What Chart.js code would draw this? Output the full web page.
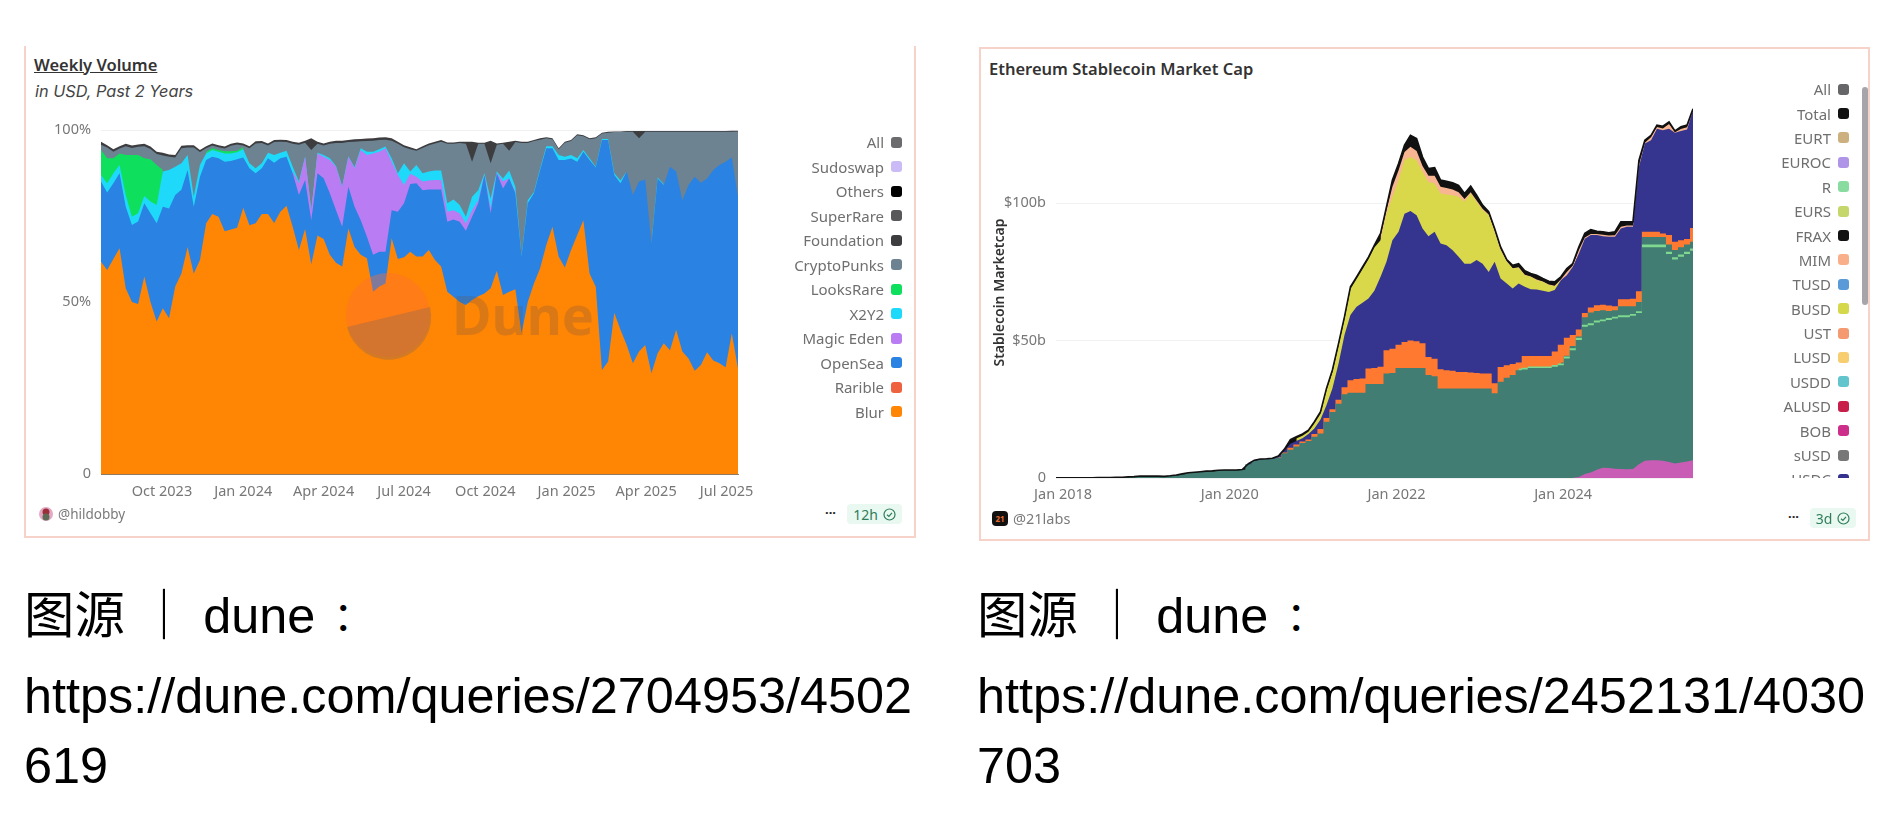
<!DOCTYPE html>
<html>
<head>
<meta charset="utf-8">
<script src="https://cdn.jsdelivr.net/npm/chart.js@4"></script>
<style>
html, body { margin:0; padding:0; background:#fff; width:1894px; height:832px; overflow:hidden; font-family:"Noto Sans",sans-serif; }
.abs { position:absolute; white-space:nowrap; }
.frame { position:absolute; box-sizing:border-box; border:2px solid #f7d2c8; }
.title { font-size:16.5px; font-weight:600; color:#333; }
.legend { position:absolute; overflow:hidden; }
.row { display:flex; justify-content:flex-end; align-items:center; gap:7px; font-size:15px; color:#6f6f6f; }
.row i { display:block; width:11px; height:11px; border-radius:3px; }
.owner { font-size:13.5px; color:#7a7a7a; }
.badge { position:absolute; display:flex; align-items:center; justify-content:center; gap:5px; background:#e9f8f0; color:#2f7d5b; border-radius:4px; font-size:14px; }
.dots { font-size:13px; font-weight:700; color:#222; letter-spacing:0; }
.cap { position:absolute; white-space:nowrap; font-family:"Liberation Sans","Noto Sans CJK SC",sans-serif; font-size:50.4px; line-height:60px; color:#000; }
.cap b { font-family:"Noto Sans CJK TC"; font-weight:400; font-size:40px; margin-left:8px; line-height:0; }
</style>
</head>
<body>

<div class="frame" style="left:24px;top:46px;width:892px;height:492px;border-top:none"></div>
<div class="frame" style="left:979px;top:47px;width:891px;height:494px"></div>

<div class="abs title" style="left:34px;top:53px;text-decoration:underline">Weekly Volume</div>
<div class="abs" style="left:35px;top:81px;font-family:Inter;font-size:16.3px;font-style:italic;color:#444">in USD, Past 2 Years</div>
<div class="abs title" style="left:989px;top:57px">Ethereum Stablecoin Market Cap</div>

<div class="abs" style="left:24px;top:100px;width:800px;height:410px"><canvas id="volume"></canvas></div>
<div class="abs" style="left:985px;top:80px;width:800px;height:430px"><canvas id="stable"></canvas></div>

<!-- Dune 워터마크 -->
<svg class="abs" style="left:340px;top:260px;pointer-events:none" width="270" height="110">
  <circle cx="48" cy="55" r="42" fill="rgba(255,110,50,0.4)"/>
  <path d="M 7 67 A 42 42 0 0 0 90 47 Z" fill="rgba(140,105,90,0.38)"/>
  <text x="112" y="75" font-family="Noto Sans" font-weight="700" font-size="54" fill="rgba(110,85,70,0.26)">Dune</text>
</svg>

<div class="legend" id="legendA" style="left:700px;top:130px;width:202px;height:300px"></div>
<div class="legend" id="legendB" style="left:1650px;top:77px;width:199px;height:401px"></div>
<div class="abs" style="left:1862px;top:87px;width:6px;height:218px;background:#a6a6aa;border-radius:3px"></div>

<svg class="abs" style="left:39px;top:507px" width="14" height="14">
  <circle cx="7" cy="7" r="7" fill="#e3a9c4"/><circle cx="7" cy="5" r="3.5" fill="#9a2f3a"/><circle cx="7" cy="10" r="3.5" fill="#5d6a55"/>
</svg>
<div class="abs owner" style="left:58px;top:505px">@hildobby</div>
<div class="abs dots" style="left:825px;top:503px">···</div>
<div class="badge" style="left:847px;top:504px;width:55px;height:20px">12h
  <svg width="13" height="13" viewBox="0 0 13 13"><circle cx="6.5" cy="6.5" r="5.5" fill="none" stroke="#2f7d5b" stroke-width="1.2"/><path d="M4 6.7 L5.9 8.5 L9 4.8" fill="none" stroke="#2f7d5b" stroke-width="1.2"/></svg>
</div>

<div class="abs" style="left:992px;top:511px;width:16px;height:15px;background:#111;border-radius:4px;color:#e8692c;font-size:8px;font-weight:700;line-height:15px;text-align:center">21</div>
<div class="abs owner" style="left:1013px;top:508px;font-size:14.5px">@21labs</div>
<div class="abs dots" style="left:1788px;top:507px">···</div>
<div class="badge" style="left:1810px;top:508px;width:46px;height:20px">3d
  <svg width="13" height="13" viewBox="0 0 13 13"><circle cx="6.5" cy="6.5" r="5.5" fill="none" stroke="#2f7d5b" stroke-width="1.2"/><path d="M4 6.7 L5.9 8.5 L9 4.8" fill="none" stroke="#2f7d5b" stroke-width="1.2"/></svg>
</div>

<div class="cap" style="left:24px;top:586px">图源 ｜ dune<b>：</b></div>
<div class="cap" style="left:24px;top:666px">https://dune.com/queries/2704953/4502</div>
<div class="cap" style="left:24px;top:736px">619</div>
<div class="cap" style="left:977px;top:586px">图源 ｜ dune<b>：</b></div>
<div class="cap" style="left:977px;top:666px">https://dune.com/queries/2452131/4030</div>
<div class="cap" style="left:977px;top:736px">703</div>

<script>
const gap = (n) => Array(n).fill(null);   // 해당 구간에 값이 없음

// ---- Weekly Volume (왼쪽) : 각 계열 윗선의 누적 % 값
const volumeTickDates = ['2023-10-01','2024-01-01','2024-04-01','2024-07-01','2024-10-01','2025-01-01','2025-04-01','2025-07-01'];
const volumeTickLabels = ['Oct 2023','Jan 2024','Apr 2024','Jul 2024','Oct 2024','Jan 2025','Apr 2025','Jul 2025'];

const blurTop = [
  61.7,59.3,62.5,65.6,54,50,49.4,57.4,50,44.3,
  48.2,45.3,54.5,58.3,66,58.3,62.2,72.9,75.6,74.8,
  70.6,71.1,71.6,77.4,72.3,72.9,75.6,75.6,73,76.2,
  78,71.9,65.1,71.2,61,69.3,68.3,63.7,61.4,60.3,
  71.4,66,63.7,62.7,53,54.5,55.4,68.5,62.5,63,
  64.6,63.2,63.2,65.1,62.2,60.3,53,51.5,50,49.1,
  50.6,51.7,52.5,54,59.1,52,53,53.7,40.9,50,
  55.4,59.8,66.6,71.9,63.2,60,65.1,69.5,73.8,58.3,
  54.4,30.2,32.7,46.9,41.9,37.5,32.2,35.6,37.5,29.3,
  35.1,38,36,41.9,35.6,33.6,30,31.7,35.4,33,
  32.2,31,40.9,30.7];
const openSeaTop = [
  85,81.8,84.5,87.4,77.7,72.4,73.4,78.7,75.8,72.9,
  77.7,77.2,81.1,82.6,88.4,77.7,86.4,91.3,92.2,91.8,
  90.8,91,91.5,92,88.9,87.4,88.9,91.8,90.5,91.8,
  92.2,87.4,81.1,85.5,73.8,87.4,86,81.6,76.7,71.9,
  83.5,77.7,73.8,69,63.7,64.6,64.6,76.7,76.2,78.7,
  84.3,84.5,82.5,82.7,82.7,82.7,73.3,74,73.3,70.7,
  74.8,78.7,86.9,75.8,87.4,83,85.9,81.6,63.2,78.7,
  81.6,88.4,94.7,94.7,91.3,91.3,91.7,90.8,93.7,91.3,
  89.1,97.1,97.1,86.9,84.5,87.9,81.1,85,85.6,67,
  85.9,84,89.3,87.9,79.6,84,86.4,84.7,85.9,88.4,
  89.8,90.8,92,80.6];
const magicEdenTop = gap(31).concat([
  87.9,84.5,92.2,76.7,93.2,92.2,91.3,89.3,83.5,
  92.2,88.9,94.2,92.7,93.2,93.7,94.7,90.8,86.9,84,
  87.3,86.4,85,85.3,85.5,85.5,76.2,76.7,75.8,72.9,
  76.7,79.6,87,77.2,87.5,85,86,82]);
const x2y2Top = [
  86.9,84.5,87.4,89.8,81.1,74.8,75.8,80.8,79.2,78.2,
  87.9,88.4,89.3,90.3,92.7,80.6,89.8,93.2,94.2,93.7,
  93.2,93.2,93.5,94.4,90.3,88.9,90.3,93.4,92.7,93.4,
  94,89.3,85,92.2,76.7,93.4,92.7,91.8,89.5,83.7,
  92.4,89.2,94.7,93.7,93.7,94.4,95.2,91.8,87.4,90.3,
  87.9,89.8,87.4,87.9,88.2,88.2,78.7,79.8,78.2,74.8,
  80.6,82.5,87.4,80.1,87.9,85.9,88.2,83.5,63.4,79.6,
  82,88.8,95.3,95.3,92.7,92.2,92.7,91.8,94.2,91.8,
  89.3,97.4,97.4,87.4,85.3,87.9,null,null,null,67.2,
  86.2,84.3];
const looksRareTop = [
  94.2,91.8,91.8,93.2,92.7,92.7,92.7,91.8,91.5,89.8,88.4,
  null,null,null,null,null,null,
  93.6,94.7,94.2,93.8,93.8,94,95];
const cryptoPunksTop = [
  95.7,94.9,93.7,94.6,95.3,94.8,95.1,95.3,94.5,93,
  92.6,92.2,92,94.7,94.9,94.9,93.6,94.7,95.5,95,
  94.6,95.4,95.8,95.5,94.7,96.1,96.2,95.5,96.5,96.6,
  96.5,96,95.7,96.3,94.2,96,95.5,96,96.2,96.2,
  96.5,96.6,96.7,96.8,96.9,97.1,97.2,96.9,96,95,
  94.4,94,94.8,95.6,96.1,96.6,96,96,96.2,96,
  90.8,96,96,90.3,95.7,96,94,96.5,96.2,96.2,
  96.8,97.2,97.6,97.3,94.4,96.3,96.8,98.5,98.2,97.3,
  97.6,99,99.2,99.4,99.4,99.5,99.5,97.6,99.5,99.5,
  99.5,99.5,99.5,99.5,99.5,99.5,99.5,99.5,99.5,99.5,
  99.5,99.5,99.5,99.6];
const foundationTop = [
  96.6,95.6,94.4,95.3,96,95.5,95.8,96,95.2,93.7,
  93.4,92.9,92.7,95.4,95.6,95.6,94.2,95.3,96.1,95.6,
  95.2,96,96.4,96.1,95.3,96.7,96.8,96.1,97.1,97.2,
  97.1,96.6,96.3,96.9,97.6,96.6,96.1,96.6,96.9,96.9,
  97.1,97.3,97.4,97.5,97.6,97.8,97.9,97.6,96.6,95.6,
  95,94.4,95.3,96.1,96.6,97.1,96.4,96.4,96.6,96.6,
  96.6,96.3,96.3,96.9,96.1,96.3,96.6,96.9,96.6,96.6,
  97.1,97.6,97.9,97.6,94.7,96.6,97.1,98.8,98.5,97.6,
  97.9,99.2,99.5,99.6,99.6,99.7,99.7,99.7,99.7,99.7,
  99.7,99.7,99.7,99.7,99.7,99.7,99.7,99.7,99.7,99.7,
  99.7,99.7,99.8,99.8];

const volumeLegendNames = ['All','Sudoswap','Others','SuperRare','Foundation','CryptoPunks','LooksRare','X2Y2','Magic Eden','OpenSea','Rarible','Blur'];
const volumeLegendColors = ['#6b6b6e','#cabbf6','#000000','#58585a','#3d3d40','#6d8392','#0ee05e','#1ed9f9','#b97cf2','#2a82e2','#ee6240','#ff8505'];

// ---- Ethereum Stablecoin Market Cap (오른쪽) : 누적 윗선, 단위 $b
const stableTickDates = ['2018-01-01','2020-01-01','2022-01-01','2024-01-01'];
const stableTickLabels = ['Jan 2018','Jan 2020','Jan 2022','Jan 2024'];

const bobTop = gap(86).concat([0.1,0.4,1.5,2,3,3.7,3.6,3.4,3.3,3.2,3.3,5,6.3,6.5,6.5,6.3,5.8,5.3,5.6,6,6.5]);
const usdtTop = [
  0.1,0.1,0.1,0.1,0.1,0.1,0.1,0.2,0.2,0.2,
  0.3,0.3,0.4,0.5,0.7,0.7,0.7,0.7,0.6,0.8,
  1,1.4,1.8,2,2.2,2.4,2.5,2.7,2.8,2.8,
  2.8,3,5,6.2,6.6,6.8,7,7.5,9,10.3,
  11.5,12.7,13.5,15,16.2,20.5,24,27,30.5,31,
  31,31,34.2,34.2,34.2,38,38.2,40,40,40,
  40,40,37.5,37,32.6,32.6,32.6,32.6,32.6,32.6,
  32.6,32.6,32.6,30.8,35,36.5,37.5,39.2,39.5,40,
  40,40,40,40.5,41,43.5,46.5,50.2,55,55.6,
  56.6,57,57.5,58,58.5,58.5,59,60,84,84,
  84,84,81.5,79.5,80.5,81.5,82.7];
const rTop = gap(77).concat([
  39.8,40.1,40.6,40.6,40.6,40.6,41.1,41.7,44.2,47.2,
  51,55.8,56.3,57.3,57.7,58.2,58.7,59.2,59.2,59.7,
  60.7,85,85,85,85,82.3,80.3,81.3,82.3,83.5]);
const usdsTop = gap(84).concat([42,44.5,48,51.5,58.5,60.2,60.8,61,60.8,61,62.5,62.5,62.5,64,87.7,87.7,87.7,87.7,85,83,84,85,86]);
const daiTop = gap(37).concat([
  7.6,9.3,11,12.2,13.3,14,16,17.8,21.8,25,28.5,33,35.6,
  36,36.2,39.8,40,40.5,46.5,47,48.5,49.5,50,49.8,49,44,43.4,
  39.6,39.2,39,38.6,38.6,38.4,38.2,38,38,34.5,40.4,41,41.5,42,
  44.4,44.4,44.4,44.4,44.4,46,48.5,51,52,54,60,62,62.9,63,62.8,62.5,
  65,65,65.2,68,89.6,89.6,89.6,89,88.4,86,86.5,87,91]);
const usdcTop = gap(32).concat([
  5.1,6.4,6.8,6.9,7.1,7.8,10,12.5,
  13.5,14.5,16,18,21.3,26.5,32.6,41.7,52,59.3,
  62.3,63.8,65.3,68.1,73.2,78.7,86.5,89.6,96.2,97.2,
  95.6,90.8,88,89.6,85.3,84.7,82.9,80.5,78,78,
  79.3,78,75,78.7,72.6,70.8,69,70.8,69.6,68.7,
  68.6,68.1,67.7,68.4,72,73.8,76.8,81.7,87.1,88.4,
  88.4,88,87.8,87.8,90.8,91.4,91.4,113.2,121.7,122.9,
  127.1,126.5,127.1,125.6,126.3,126.8,133.8]);
const busdTop = gap(40).concat([
  14.4,15.4,16.8,19.8,23.4,31.9,38.5,48.2,57.9,68.8,72.4,76,79.6,83.9,
  86.5,96.2,102.3,108.4,115.6,116.8,115.6,111.4,107.7,107.2,103.5,103.2,102.9,102.3,100.5,103.5,
  100.5,97.5,95.6,89.6,82.9,78.7,76.2,76.5,73.8,73.2,72,71.4,70.2,69.8,72]);
const mimTop = gap(54).concat([
  88,97.5,106,112,118.6,120.5,119,113.5,110,110,106,105.5,105,104,101.5,104,
  101,98,95.9,90,83.2,78.9,76.3,76.7,74,73.3,72.2,71.5,70.4,70,72.2,75,77.2,83,87.5,88.8,
  88.8,88.5,88.2,88.3,91.4,91.9,91.9,114,122,124,127.7,127.2,128.8,125.8,127,127.6,133.8]);
const totalTop = [
  0.1,0.1,0.1,0.1,0.1,0.1,0.1,0.2,0.2,0.2,
  0.3,0.3,0.4,0.5,0.7,0.7,0.7,0.7,0.6,0.8,
  1.1,1.5,1.9,2.1,2.3,2.5,2.6,2.8,2.9,2.9,
  2.9,3.1,5.2,6.5,6.9,7,7.2,8,10.5,14,
  15,16,17.4,20.5,24.1,32.6,39.3,49,58.7,69.6,
  73.2,76.8,80.4,84.7,89,98.7,108.4,114.4,121.1,124.7,
  123.5,116.8,112.6,112.9,108.4,108,107.4,106.5,103.5,106.2,
  102.9,99.3,96.9,90.8,84.1,79.5,77.4,78,75.4,74.4,
  73.8,72.6,71.6,71.4,73.2,76.2,78,84.1,89,90.4,
  89.8,89.6,89.2,89.6,93.2,93.2,93.2,115.6,122.9,124.7,
  128.4,128,129.6,126.3,127.8,128.4,134.4];

const stableLegendNames = ['All','Total','EURT','EUROC','R','EURS','FRAX','MIM','TUSD','BUSD','UST','LUSD','USDD','ALUSD','BOB','sUSD','USDC'];
const stableLegendColors = ['#666668','#111111','#cdb07f','#b094e8','#88dca0','#c5d66a','#111111','#f9b08a','#5a9ad8','#d4d84a','#f59a70','#f7cd70','#62c4cc','#c81e4a','#cc2e8a','#777777','#35328f'];

// x축은 시간값(ms)을 쓰는 linear 스케일
function makeDates(start, stepDays, n) {
  const out = [];
  for (let i = 0; i < n; i++) {
    out.push(Date.UTC(start[0], start[1] - 1, start[2] + Math.round(i * stepDays)));
  }
  return out;
}
const volumeDates = makeDates([2023, 7, 24], 7, blurTop.length);
const stableDates = makeDates([2017, 12, 1], 26.33, totalTop.length);

function buildLegend(id, names, colors, rowHeight) {
  const box = document.getElementById(id);
  names.forEach((name, i) => {
    const row = document.createElement('div');
    row.className = 'row';
    row.style.height = rowHeight + 'px';
    row.innerHTML = `<span>${name}</span><i style="background:${colors[i]}"></i>`;
    box.appendChild(row);
  });
}
buildLegend('legendA', volumeLegendNames, volumeLegendColors, 24.5);
buildLegend('legendB', stableLegendNames, stableLegendColors, 24.4);

function area(label, data, color, stepped) {
  return { label, data, backgroundColor: color, borderColor: color, borderWidth: 0, fill: 'origin', pointRadius: 0, tension: 0, stepped: stepped || false };
}

const tickFont = { family: 'Noto Sans', size: 14.5 };
const tickColor = '#777';

function xAxis(dates, tickDates, tickLabels, pad, height, border) {
  const stamps = tickDates.map((d) => Date.parse(d));
  return {
    type: 'linear',
    min: dates[0],
    max: dates[dates.length - 1],
    grid: { display: false, drawTicks: false },
    border: border,
    afterBuildTicks(s) { s.ticks = stamps.map((v) => ({ value: v })); },
    ticks: {
      autoSkip: false, maxRotation: 0, minRotation: 0, padding: pad, color: tickColor, font: tickFont,
      callback: (v) => tickLabels[stamps.indexOf(v)]
    },
    afterFit(s) { s.height = height; }
  };
}

Chart.defaults.animation = false;
Chart.defaults.responsive = true;
Chart.defaults.maintainAspectRatio = false;

// 아래쪽 계열이 앞에 그려지도록 순서대로 넣는다
new Chart(document.getElementById('volume'), {
  type: 'line',
  data: {
    labels: volumeDates,
    datasets: [
      area('Blur', blurTop, '#ff8505'),
      area('OpenSea', openSeaTop, '#2a82e2'),
      area('Magic Eden', magicEdenTop, '#b97cf2'),
      area('X2Y2', x2y2Top, '#1ed9f9'),
      area('LooksRare', looksRareTop, '#0ee05e'),
      area('CryptoPunks', cryptoPunksTop, '#6d8392'),
      area('Foundation', foundationTop, '#3d3d40')
    ]
  },
  options: {
    layout: { padding: { top: 30, right: 86, bottom: 0, left: 0 } },
    plugins: { legend: { display: false }, tooltip: { enabled: false } },
    scales: {
      x: xAxis(volumeDates, volumeTickDates, volumeTickLabels, 9, 36, { color: 'rgba(110,80,50,0.75)' }),
      y: {
        min: 0, max: 100,
        grid: { color: '#f1f1f1', drawTicks: false }, border: { display: false },
        ticks: { stepSize: 50, padding: 10, color: tickColor, font: tickFont, callback: (v) => (v === 0 ? '0' : v + '%') },
        afterFit(s) { s.width = 77; }
      }
    }
  }
});

new Chart(document.getElementById('stable'), {
  type: 'line',
  data: {
    labels: stableDates,
    datasets: [
      { label: 'Total', data: totalTop, borderColor: '#111', borderWidth: 1.6, fill: false, pointRadius: 0, tension: 0 },
      area('BOB', bobTop, '#c95db5'),
      area('USDT', usdtTop, '#417d72', 'middle'),
      area('R', rTop, '#7fd88f', 'middle'),
      area('USDS', usdsTop, '#417d72', 'middle'),
      area('DAI', daiTop, '#ff7a30', 'middle'),
      area('USDC', usdcTop, '#35348f'),
      area('BUSD', busdTop, '#d8d84a'),
      area('MIM', mimTop, '#f7b591'),
      area('FRAX', totalTop, '#111111')
    ]
  },
  options: {
    layout: { padding: { top: 27, right: 92, bottom: 0, left: 0 } },
    plugins: { legend: { display: false }, tooltip: { enabled: false } },
    scales: {
      x: xAxis(stableDates, stableTickDates, stableTickLabels, 8, 32, { display: false }),
      y: {
        min: 0, max: 135,
        grid: { color: '#f1f1f1', drawTicks: false }, border: { display: false },
        title: { display: true, text: 'Stablecoin Marketcap', color: '#333', font: { family: 'Noto Sans', size: 14, weight: '600' }, padding: { top: 7, bottom: 0 } },
        ticks: { stepSize: 50, includeBounds: false, padding: 10, color: tickColor, font: tickFont, callback: (v) => (v === 0 ? '0' : '$' + v + 'b') },
        afterFit(s) { s.width = 71; }
      }
    }
  }
});
</script>
</body>
</html>
